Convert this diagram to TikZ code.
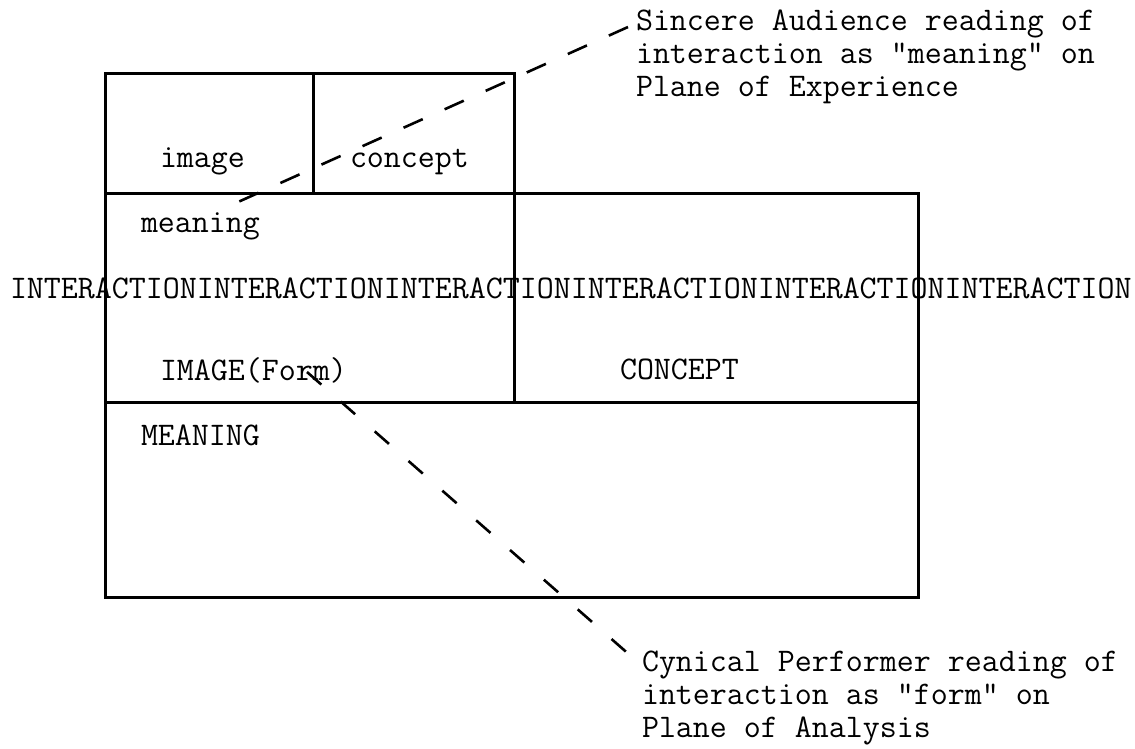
\documentclass[tikz,border=0pt]{standalone}
\usepackage{fontspec}
\begin{document}
\begin{tikzpicture}[x=1pt,y=-1pt,
  frame/.style={line width=3pt, line cap=rect, line join=miter},
  leader/.style={line width=2.6pt, dash pattern=on 21pt off 24pt},
  leaderb/.style={line width=2.6pt, dash pattern=on 19pt off 26pt},
  type/.style={font=\fontsize{33}{33}\selectfont\ttfamily, inner sep=0pt, outer sep=0pt, anchor=base west},
  note/.style={type, align=left, anchor=north west}]
\useasboundingbox[fill=white] (0,0) rectangle (1135,748);

% upper pair of cells
\draw[frame] (105,73) rectangle (514,193);
\draw[frame] (313,73) -- (313,193);
% middle band with its two cells
\draw[frame] (105,193) rectangle (918,402);
\draw[frame] (514,193) -- (514,402);
% lower band
\draw[frame] (105,402) rectangle (918,597);

% cell labels
\node[type] (img)   at (160,167) {image};
\node[type] (con)   at (350,167) {concept};
\node[type] (mng)   at (141,232) {meaning};
\node[type] (inter) at (10,298)  {INTERACTIONINTERACTIONINTERACTIONINTERACTIONINTERACTIONINTERACTION};
\node[type] (IMG)   at (160,380) {IMAGE(Form)};
\node[type] (CON)   at (620,379) {CONCEPT};
\node[type] (MNG)   at (141,445) {MEANING};

% readings
\node[note] (sincere) at (636,10) {Sincere Audience reading of\\interaction as "meaning" on\\Plane of Experience};
\node[note] (cynical) at (642,651) {Cynical Performer reading of\\interaction as "form" on\\Plane of Analysis};

% dashed leaders
\coordinate (sTip) at (628,27);
\coordinate (sEnd) at (218,211);
\coordinate (cTip) at (307,372);
\coordinate (cEnd) at (640,664);
\draw[leader]  (sTip) -- (sEnd);
\draw[leaderb] (cTip) -- (cEnd);
\end{tikzpicture}
\end{document}
